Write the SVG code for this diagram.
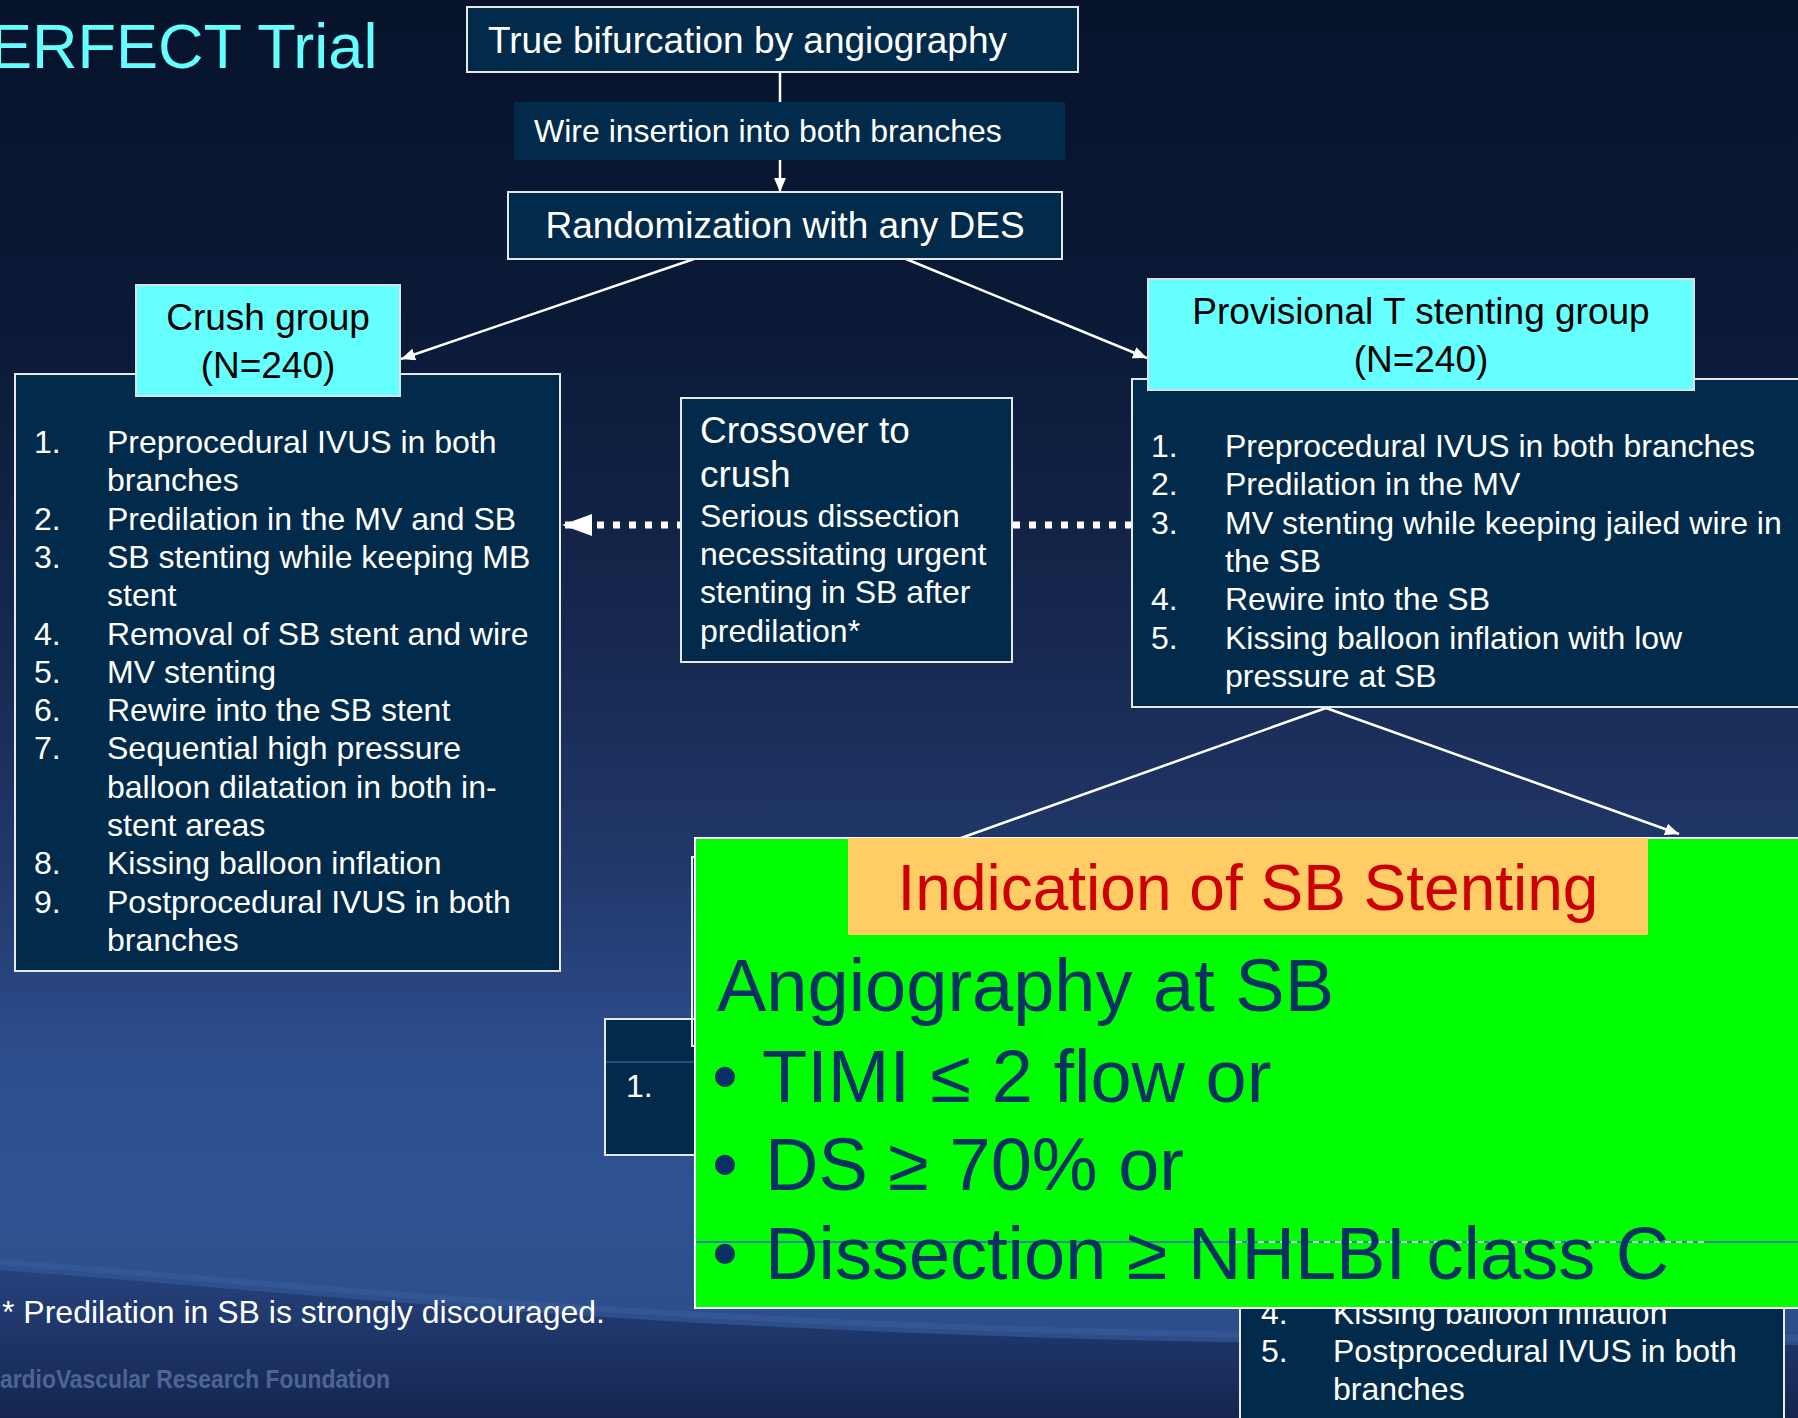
<svg xmlns="http://www.w3.org/2000/svg" width="1798" height="1418" viewBox="0 0 1798 1418">
<defs>
<linearGradient id="bg" x1="0" y1="0" x2="0" y2="1">
<stop offset="0" stop-color="#06132b"/>
<stop offset="0.22" stop-color="#0a1936"/>
<stop offset="0.45" stop-color="#16284f"/>
<stop offset="0.62" stop-color="#22396c"/>
<stop offset="0.75" stop-color="#2d4e8e"/>
<stop offset="0.85" stop-color="#2f5392"/>
<stop offset="1" stop-color="#2a4a86"/>
</linearGradient>
<linearGradient id="low" x1="0" y1="0" x2="0" y2="1">
<stop offset="0" stop-color="#26427c"/>
<stop offset="1" stop-color="#142650"/>
</linearGradient>
<marker id="arr" viewBox="0 0 14 12" refX="14" refY="6" markerWidth="14" markerHeight="12" orient="auto" markerUnits="userSpaceOnUse">
<path d="M0,0 L14,6 L0,12 z" fill="#fff"/>
</marker>
<marker id="bigarr" viewBox="0 0 30 22" refX="30" refY="11" markerWidth="30" markerHeight="22" orient="auto" markerUnits="userSpaceOnUse">
<path d="M0,0 L30,11 L0,22 z" fill="#fff"/>
</marker>
</defs>
<style>
.t{font-family:"Liberation Sans",Arial,Helvetica,sans-serif;fill:#ffffff}
.s32{font-size:32px}
.s37{font-size:37px}
.box{fill:#022b4b;stroke:#e8e8e8;stroke-width:2}
.cyan{fill:#66ffff;stroke:#d4e2e8;stroke-width:2}
.conn{stroke:#ffffff;stroke-width:2.5;fill:none}
.g{font-family:"Liberation Sans",Arial,Helvetica,sans-serif;fill:#0a3163;font-size:74px}
</style>

<rect x="0" y="0" width="1798" height="1418" fill="url(#bg)"/>
<path d="M0,1270 C 400,1300 800,1352 1798,1345 L1798,1418 L0,1418 Z" fill="url(#low)"/>
<path d="M0,1262 C 400,1292 800,1344 1798,1338" stroke="#3b5e9e" stroke-width="6" fill="none" opacity="0.5"/>

<text x="0" y="1388" font-family="Liberation Sans, Arial, sans-serif" font-size="26" font-weight="bold" fill="#5f77a8" textLength="390" lengthAdjust="spacingAndGlyphs" opacity="0.75">ardioVascular Research Foundation</text>

<g id="title">
<text x="-10" y="68" font-family="Liberation Sans, Arial, sans-serif" font-size="63" fill="#66ffff">ERFECT Trial</text>
</g>

<g id="connectors">
<line class="conn" x1="780" y1="72" x2="780" y2="102"/>
<line class="conn" x1="780" y1="160" x2="780" y2="192" marker-end="url(#arr)"/>
<line class="conn" x1="694" y1="259" x2="401" y2="359" marker-end="url(#arr)"/>
<line class="conn" x1="906" y1="259" x2="1147" y2="358" marker-end="url(#arr)"/>
<line x1="1132" y1="525" x2="562" y2="525" stroke="#fff" stroke-width="7" stroke-dasharray="7 9" marker-end="url(#bigarr)"/>
<line class="conn" x1="1326" y1="708" x2="961" y2="838"/>
<line class="conn" x1="1326" y1="708" x2="1679" y2="834" marker-end="url(#arr)"/>
</g>

<g id="true-bifurcation">
<rect class="box" x="467" y="7" width="611" height="65"/>
<text class="t s37" x="488" y="53">True bifurcation by angiography</text>
</g>

<g id="wire-insertion">
<rect x="514" y="102" width="551" height="58" fill="#022b4b"/>
<text class="t s32" x="534" y="142">Wire insertion into both branches</text>
</g>

<g id="randomization">
<rect class="box" x="508" y="192" width="554" height="67"/>
<text class="t s37" x="785" y="238" text-anchor="middle">Randomization with any DES</text>
</g>

<g id="crush-list">
<rect class="box" x="15" y="374" width="545" height="597"/>
<g class="t s32">
<text x="34" y="453">1.</text><text x="107" y="453">Preprocedural IVUS in both</text>
<text x="107" y="491.3">branches</text>
<text x="34" y="529.6">2.</text><text x="107" y="529.6">Predilation in the MV and SB</text>
<text x="34" y="567.9">3.</text><text x="107" y="567.9">SB stenting while keeping MB</text>
<text x="107" y="606.2">stent</text>
<text x="34" y="644.5">4.</text><text x="107" y="644.5">Removal of SB stent and wire</text>
<text x="34" y="682.8">5.</text><text x="107" y="682.8">MV stenting</text>
<text x="34" y="721.1">6.</text><text x="107" y="721.1">Rewire into the SB stent</text>
<text x="34" y="759.4">7.</text><text x="107" y="759.4">Sequential high pressure</text>
<text x="107" y="797.7">balloon dilatation in both in-</text>
<text x="107" y="836">stent areas</text>
<text x="34" y="874.3">8.</text><text x="107" y="874.3">Kissing balloon inflation</text>
<text x="34" y="912.6">9.</text><text x="107" y="912.6">Postprocedural IVUS in both</text>
<text x="107" y="950.9">branches</text>
</g>
</g>

<g id="crush-group">
<rect class="cyan" x="136" y="285" width="264" height="111"/>
<text class="t s37" x="268" y="330" text-anchor="middle" style="fill:#000">Crush group</text>
<text class="t s37" x="268" y="378" text-anchor="middle" style="fill:#000">(N=240)</text>
</g>

<g id="provisional-list">
<rect class="box" x="1132" y="379" width="680" height="328"/>
<g class="t s32">
<text x="1151" y="457">1.</text><text x="1225" y="457">Preprocedural IVUS in both branches</text>
<text x="1151" y="495.3">2.</text><text x="1225" y="495.3">Predilation in the MV</text>
<text x="1151" y="533.6">3.</text><text x="1225" y="533.6">MV stenting while keeping jailed wire in</text>
<text x="1225" y="571.9">the SB</text>
<text x="1151" y="610.2">4.</text><text x="1225" y="610.2">Rewire into the SB</text>
<text x="1151" y="648.5">5.</text><text x="1225" y="648.5">Kissing balloon inflation with low</text>
<text x="1225" y="686.8">pressure at SB</text>
</g>
</g>

<g id="provisional-group">
<rect class="cyan" x="1148" y="279" width="546" height="111"/>
<text class="t s37" x="1421" y="324" text-anchor="middle" style="fill:#000">Provisional T stenting group</text>
<text class="t s37" x="1421" y="372" text-anchor="middle" style="fill:#000">(N=240)</text>
</g>

<g id="crossover">
<rect class="box" x="681" y="398" width="331" height="264"/>
<text class="t s37" x="700" y="443">Crossover to</text>
<text class="t s37" x="700" y="487">crush</text>
<text class="t s32" x="700" y="527">Serious dissection</text>
<text class="t s32" x="700" y="565">necessitating urgent</text>
<text class="t s32" x="700" y="603">stenting in SB after</text>
<text class="t s32" x="700" y="642">predilation*</text>
</g>

<g id="hidden-box-left">
<rect class="box" x="605" y="1019" width="200" height="136"/>
<line x1="606" y1="1062" x2="700" y2="1062" stroke="#3a5a9e" stroke-width="1.5"/>
<text class="t s32" x="626" y="1097">1.</text>
</g>
<g id="hidden-box-mid">
<rect x="692" y="857" width="200" height="189" fill="none" stroke="#e8e8e8" stroke-width="2"/>
</g>

<g id="hidden-box-right">
<rect class="box" x="1240" y="1240" width="544" height="200"/>
<g class="t s32">
<text x="1261" y="1324">4.</text><text x="1333" y="1324">Kissing balloon inflation</text>
<text x="1261" y="1362">5.</text><text x="1333" y="1362">Postprocedural IVUS in both</text>
<text x="1333" y="1400">branches</text>
</g>
</g>

<g id="indication">
<rect x="695" y="838" width="1120" height="470" fill="#00ff00" stroke="#ffffff" stroke-width="2"/>
<line x1="696" y1="1242" x2="1798" y2="1242" stroke="#4a56d8" stroke-width="1.5"/>
<line x1="1236" y1="1242" x2="1708" y2="1242" stroke="#ffffff" stroke-width="1.5" stroke-dasharray="6 5"/>
<rect x="848" y="838" width="800" height="97" fill="#ffcc66"/>
<text x="1248" y="910" font-family="Liberation Sans, Arial, sans-serif" font-size="64" fill="#cc0000" text-anchor="middle">Indication of SB Stenting</text>
<text class="g" x="717" y="1011">Angiography at SB</text>
<text class="g" x="712" y="1102" font-size="80">•</text>
<text class="g" x="762" y="1102">TIMI ≤ 2 flow or</text>
<text class="g" x="712" y="1190" font-size="80">•</text>
<text class="g" x="765" y="1190">DS ≥ 70% or</text>
<text class="g" x="712" y="1279" font-size="80">•</text>
<text class="g" x="765" y="1279">Dissection ≥ NHLBI class C</text>
</g>

<g id="footnote">
<text class="t s32" x="2" y="1323">* Predilation in SB is strongly discouraged.</text>
</g>
</svg>
